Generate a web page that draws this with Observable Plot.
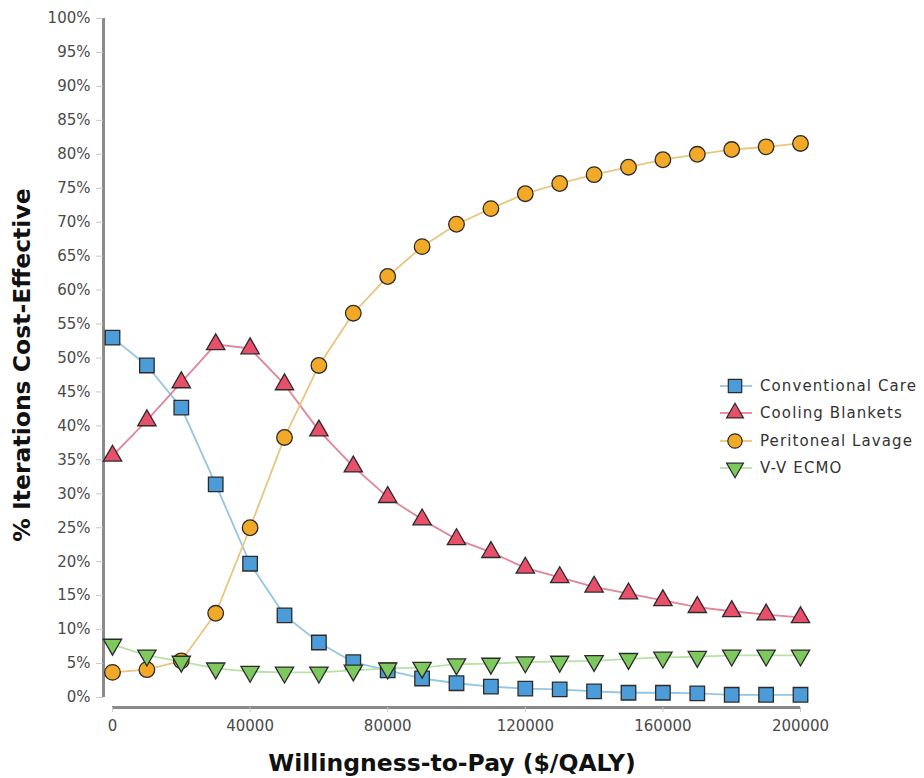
<!DOCTYPE html>
<html>
<head>
<meta charset="utf-8">
<script src="https://cdn.jsdelivr.net/npm/d3@7"></script>
<script src="https://cdn.jsdelivr.net/npm/@observablehq/plot@0.6"></script>
<style>
  html, body { margin: 0; padding: 0; background: #fff; }
  #wrap { position: relative; width: 924px; height: 778px; }
  #legend { position: absolute; left: 718px; top: 372px; font-family: "DejaVu Sans", Verdana, sans-serif; font-size: 15px; letter-spacing: 1.1px; color: #333; }
  .row { display: flex; align-items: center; height: 27.5px; }
  .row svg { margin-right: 6px; }
</style>
</head>
<body>
<div id="wrap"><div id="legend"></div></div>
<script>
const wtp = [0, 10000, 20000, 30000, 40000, 50000, 60000, 70000, 80000, 90000, 100000,
             110000, 120000, 130000, 140000, 150000, 160000, 170000, 180000, 190000, 200000];
const seriesNames = ["Conventional Care", "Cooling Blankets", "Peritoneal Lavage", "V-V ECMO"];
const conventional = [53.0, 48.9, 42.7, 31.4, 19.7, 12.1, 8.1, 5.2, 4.0, 2.8, 2.1, 1.6, 1.3, 1.2, 0.9, 0.7, 0.7, 0.6, 0.4, 0.4, 0.4];
const cooling = [35.6, 40.8, 46.4, 52.0, 51.4, 46.1, 39.3, 34.0, 29.5, 26.2, 23.3, 21.4, 19.1, 17.7, 16.3, 15.3, 14.3, 13.3, 12.7, 12.2, 11.8];
const peritoneal = [3.7, 4.1, 5.4, 12.4, 25.0, 38.3, 48.9, 56.6, 62.0, 66.4, 69.7, 72.0, 74.2, 75.7, 77.0, 78.1, 79.2, 80.0, 80.7, 81.1, 81.6];
const ecmo = [7.8, 6.2, 5.3, 4.3, 3.8, 3.7, 3.7, 4.0, 4.3, 4.4, 4.9, 5.0, 5.2, 5.3, 5.4, 5.7, 5.9, 6.0, 6.2, 6.2, 6.2];
const yTicks = [0, 5, 10, 15, 20, 25, 30, 35, 40, 45, 50, 55, 60, 65, 70, 75, 80, 85, 90, 95, 100];
const xTicks = [0, 40000, 80000, 120000, 160000, 200000];

const styles = [
  {symbol: "square",   rotate: 0,   r: 8.2, fill: "#4b9cd8", line: "#93c6e3"},
  {symbol: "triangle", rotate: 0,   r: 6.8, fill: "#e8506a", line: "#e2849a"},
  {symbol: "circle",   rotate: 0,   r: 7.8, fill: "#f2a928", line: "#e9c67e"},
  {symbol: "triangle", rotate: 180, r: 6.8, fill: "#7dc95e", line: "#b6e3a6"}
];
const values = [conventional, cooling, peritoneal, ecmo];
const tables = values.map((vals, i) => wtp.map((x, j) => ({x, y: vals[j], series: seriesNames[i]})));

const marks = [
  Plot.ruleX([0], {dx: -9, insetBottom: 10, stroke: "#8a8a8a", strokeWidth: 3}),
  Plot.ruleY([0], {dy: 10, insetLeft: 9, stroke: "#8a8a8a", strokeWidth: 3}),
  Plot.axisY({ticks: yTicks, tickFormat: d => d + "%", tickSize: 7, tickPadding: 6, stroke: "#c8c8c8", fill: "#4a4a4a", fontSize: 15, letterSpacing: 0.5, label: null}),
  Plot.axisX({ticks: xTicks, tickFormat: d => String(d), tickSize: 5, tickPadding: 8, stroke: "#c8c8c8", fill: "#4a4a4a", fontSize: 15, letterSpacing: 0.5, label: null})
];
tables.forEach((t, i) => {
  marks.push(Plot.line(t, {x: "x", y: "y", stroke: styles[i].line, strokeWidth: 1.8}));
});
tables.forEach((t, i) => {
  const s = styles[i];
  marks.push(Plot.dot(t, {x: "x", y: "y", symbol: s.symbol, rotate: s.rotate, r: s.r, fill: s.fill, stroke: "#2b2b2b", strokeWidth: 1.3}));
});

const chart = Plot.plot({
  width: 924,
  height: 778,
  marginLeft: 103,
  marginRight: 124,
  marginTop: 18,
  marginBottom: 71,
  x: {domain: [0, 200000], insetLeft: 9},
  y: {domain: [0, 100], insetBottom: 10},
  style: {fontFamily: "DejaVu Sans, Verdana, sans-serif", background: "#fff", overflow: "visible"},
  marks: [
    ...marks,
    Plot.text(["% Iterations Cost-Effective"], {frameAnchor: "left", textAnchor: "middle", dx: -81, dy: 2, rotate: -90, fontSize: 23.5, fontWeight: "bold", letterSpacing: 0.6, fill: "#111"}),
    Plot.text(["Willingness-to-Pay ($/QALY)"], {frameAnchor: "bottom", textAnchor: "middle", dy: 63, dx: 0, fontSize: 23.5, fontWeight: "bold", letterSpacing: 0.6, fill: "#111"})
  ]
});
document.getElementById("wrap").prepend(chart);

const legend = document.getElementById("legend");
seriesNames.forEach((name, i) => {
  const s = styles[i];
  const row = document.createElement("div");
  row.className = "row";
  const sym = d3.symbol(s.symbol === "square" ? d3.symbolSquare : s.symbol === "circle" ? d3.symbolCircle : d3.symbolTriangle, Math.PI * s.r * s.r * 0.85)();
  row.innerHTML = `<svg width="36" height="22"><line x1="2" x2="34" y1="11" y2="11" stroke="${s.line}" stroke-width="1.8"/><path d="${sym}" transform="translate(17,11) rotate(${s.rotate})" fill="${s.fill}" stroke="#2b2b2b" stroke-width="1.2"/></svg><span>${name}</span>`;
  legend.appendChild(row);
});
</script>
</body>
</html>
